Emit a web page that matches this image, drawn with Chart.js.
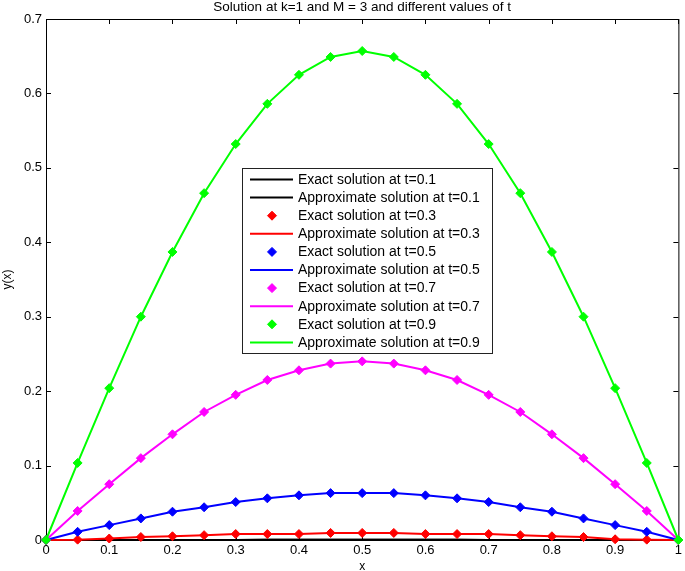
<!DOCTYPE html>
<html>
<head>
<meta charset="utf-8">
<title>Solution at k=1 and M = 3</title>
<script src="https://cdn.jsdelivr.net/npm/chart.js@4.4.1/dist/chart.umd.min.js"></script>
<style>
    html, body { margin: 0; padding: 0; background: #fff; }
    canvas { display: block; }
</style>
</head>
<body>
<canvas id="solutionChart" width="685" height="571"></canvas>
<script>
// x grid (step 0.05) and values
const xValues = [0, 0.05, 0.1, 0.15, 0.2, 0.25, 0.3, 0.35, 0.4, 0.45, 0.5,
    0.55, 0.6, 0.65, 0.7, 0.75, 0.8, 0.85, 0.9, 0.95, 1];

const yT01 = [0, 0.00002, 0.00005, 0.00008, 0.0001, 0.00013, 0.00015, 0.00017, 0.00018, 0.00019, 0.0002,
    0.00019, 0.00018, 0.00017, 0.00015, 0.00013, 0.0001, 0.00008, 0.00005, 0.00002, 0];
const yT03 = [0, 0.0005, 0.002, 0.004, 0.005, 0.0065, 0.008, 0.008, 0.008, 0.0095, 0.0095,
    0.0095, 0.008, 0.008, 0.008, 0.0065, 0.005, 0.004, 0.001, 0.0005, 0];
const yT05 = [0, 0.011, 0.020, 0.029, 0.038, 0.044, 0.051, 0.056, 0.060, 0.063, 0.063,
    0.063, 0.060, 0.056, 0.051, 0.044, 0.038, 0.029, 0.020, 0.011, 0];
const yT07 = [0, 0.039, 0.075, 0.110, 0.142, 0.172, 0.195, 0.215, 0.228, 0.237, 0.240,
    0.237, 0.228, 0.215, 0.195, 0.172, 0.142, 0.110, 0.075, 0.039, 0];
const yT09 = [0, 0.1035, 0.204, 0.300, 0.387, 0.466, 0.532, 0.586, 0.625, 0.649, 0.657,
    0.649, 0.625, 0.586, 0.532, 0.466, 0.387, 0.300, 0.204, 0.1035, 0];

const xTicks = [0, 0.1, 0.2, 0.3, 0.4, 0.5, 0.6, 0.7, 0.8, 0.9, 1];
const yTicks = [0, 0.1, 0.2, 0.3, 0.4, 0.5, 0.6, 0.7];

const chartTitle = "Solution at k=1 and M = 3 and different values of t";
const fontFamily = '"Liberation Sans", Arial, Helvetica, sans-serif';

function toPoints(ys) {
    return ys.map((y, i) => ({ x: xValues[i], y: y }));
}

// exact = markers only (except t=0.1, drawn as a plain line), approximate = line
function exactSet(label, ys, color, asLine) {
    return {
        label: label,
        data: toPoints(ys),
        borderColor: color,
        backgroundColor: color,
        showLine: !!asLine,
        borderWidth: 2,
        pointRadius: asLine ? 0 : 4.5,
        pointStyle: "rectRot",
        pointBorderWidth: 1,
        clip: false,
    };
}

function approxSet(label, ys, color) {
    return {
        label: label,
        data: toPoints(ys),
        borderColor: color,
        backgroundColor: color,
        showLine: true,
        borderWidth: 2,
        pointRadius: 0,
        clip: false,
    };
}

// box with inward ticks on all four sides, MATLAB style
const axesBox = {
    id: "axesBox",
    beforeDatasetsDraw(chart) {
        const { ctx, chartArea: a, scales } = chart;
        ctx.save();
        ctx.strokeStyle = "#000";
        ctx.lineWidth = 1;
        ctx.strokeRect(a.left + 0.5, a.top + 0.5, a.right - a.left, a.bottom - a.top);
        ctx.beginPath();
        xTicks.forEach((v) => {
            const px = Math.round(scales.x.getPixelForValue(v)) + 0.5;
            ctx.moveTo(px, a.bottom); ctx.lineTo(px, a.bottom - 5);
            ctx.moveTo(px, a.top); ctx.lineTo(px, a.top + 5);
        });
        yTicks.forEach((v) => {
            const py = Math.round(scales.y.getPixelForValue(v)) + 0.5;
            ctx.moveTo(a.left, py); ctx.lineTo(a.left + 5, py);
            ctx.moveTo(a.right, py); ctx.lineTo(a.right - 5, py);
        });
        ctx.stroke();
        ctx.restore();
    },
    afterDraw(chart) {
        const { ctx, chartArea: a } = chart;
        ctx.save();
        ctx.fillStyle = "#000";
        ctx.font = "13.5px " + fontFamily;
        ctx.textAlign = "center";
        ctx.textBaseline = "middle";
        ctx.fillText(chartTitle, (a.left + a.right) / 2, 7);
        ctx.restore();
    }
};

// legend box sitting inside the plot
const boxLegend = {
    id: "boxLegend",
    afterDraw(chart) {
        const ctx = chart.ctx;
        const left = 242, top = 168, width = 250, height = 185, rowH = 18.1;
        ctx.save();
        ctx.fillStyle = "#fff";
        ctx.fillRect(left, top, width, height);
        ctx.strokeStyle = "#222";
        ctx.lineWidth = 1;
        ctx.strokeRect(left + 0.5, top + 0.5, width, height);
        ctx.font = "14px " + fontFamily;
        ctx.textBaseline = "middle";
        chart.data.datasets.forEach((ds, i) => {
            const y = top + 11.5 + i * rowH;
            if (ds.showLine) {
                ctx.strokeStyle = ds.borderColor;
                ctx.lineWidth = 2;
                ctx.beginPath();
                ctx.moveTo(left + 8, y);
                ctx.lineTo(left + 51, y);
                ctx.stroke();
            }
            if (ds.pointRadius > 0) {
                ctx.fillStyle = ds.backgroundColor;
                ctx.strokeStyle = ds.borderColor;
                ctx.lineWidth = 1;
                Chart.helpers.drawPoint(ctx, { pointStyle: "rectRot", radius: 4.5, rotation: 0, borderWidth: 1 }, left + 30, y);
            }
            ctx.fillStyle = "#000";
            ctx.fillText(ds.label, left + 56, y + 0.5);
        });
        ctx.restore();
    }
};

document.addEventListener("DOMContentLoaded", function () {
    const ctx = document.getElementById("solutionChart").getContext("2d");

    Chart.defaults.font.family = fontFamily;
    Chart.defaults.font.size = 13;
    Chart.defaults.color = "#000";

    const datasets = [
        exactSet("Exact solution at t=0.1", yT01, "#000000", true),
        approxSet("Approximate solution at t=0.1", yT01, "#000000"),
        exactSet("Exact solution at t=0.3", yT03, "#ff0000"),
        approxSet("Approximate solution at t=0.3", yT03, "#ff0000"),
        exactSet("Exact solution at t=0.5", yT05, "#0000ff"),
        approxSet("Approximate solution at t=0.5", yT05, "#0000ff"),
        exactSet("Exact solution at t=0.7", yT07, "#ff00ff"),
        approxSet("Approximate solution at t=0.7", yT07, "#ff00ff"),
        exactSet("Exact solution at t=0.9", yT09, "#00ff00"),
        approxSet("Approximate solution at t=0.9", yT09, "#00ff00"),
    ];
    // later series drawn on top, like the MATLAB plot order
    datasets.forEach((ds, i) => { ds.order = datasets.length - i; });

    new Chart(ctx, {
        type: "scatter",
        data: { datasets: datasets },
        options: {
            responsive: false,
            animation: false,
            layout: { padding: { top: 19, right: 5, left: 0, bottom: 0 } },
            plugins: {
                legend: { display: false },
                title: { display: false },
                tooltip: { enabled: false },
            },
            scales: {
                x: {
                    type: "linear",
                    min: 0,
                    max: 1,
                    afterBuildTicks: (scale) => { scale.ticks = xTicks.map((v) => ({ value: v })); },
                    afterFit: (scale) => { scale.height = 31; },
                    grid: { display: false, drawTicks: false },
                    border: { display: false },
                    ticks: { padding: 3, maxRotation: 0, autoSkip: false, callback: (v) => String(v) },
                    title: { display: true, text: "x", font: { size: 12, lineHeight: 1 }, padding: { top: 0, bottom: -2 } },
                },
                y: {
                    type: "linear",
                    min: 0,
                    max: 0.7,
                    afterBuildTicks: (scale) => { scale.ticks = yTicks.map((v) => ({ value: v })); },
                    afterFit: (scale) => { scale.width = 46; },
                    grid: { display: false, drawTicks: false },
                    border: { display: false },
                    ticks: { padding: 4, autoSkip: false, callback: (v) => String(v) },
                    title: { display: true, text: "y(x)", font: { size: 12 }, padding: 0 },
                },
            },
        },
        plugins: [axesBox, boxLegend],
    });
});
</script>
</body>
</html>
